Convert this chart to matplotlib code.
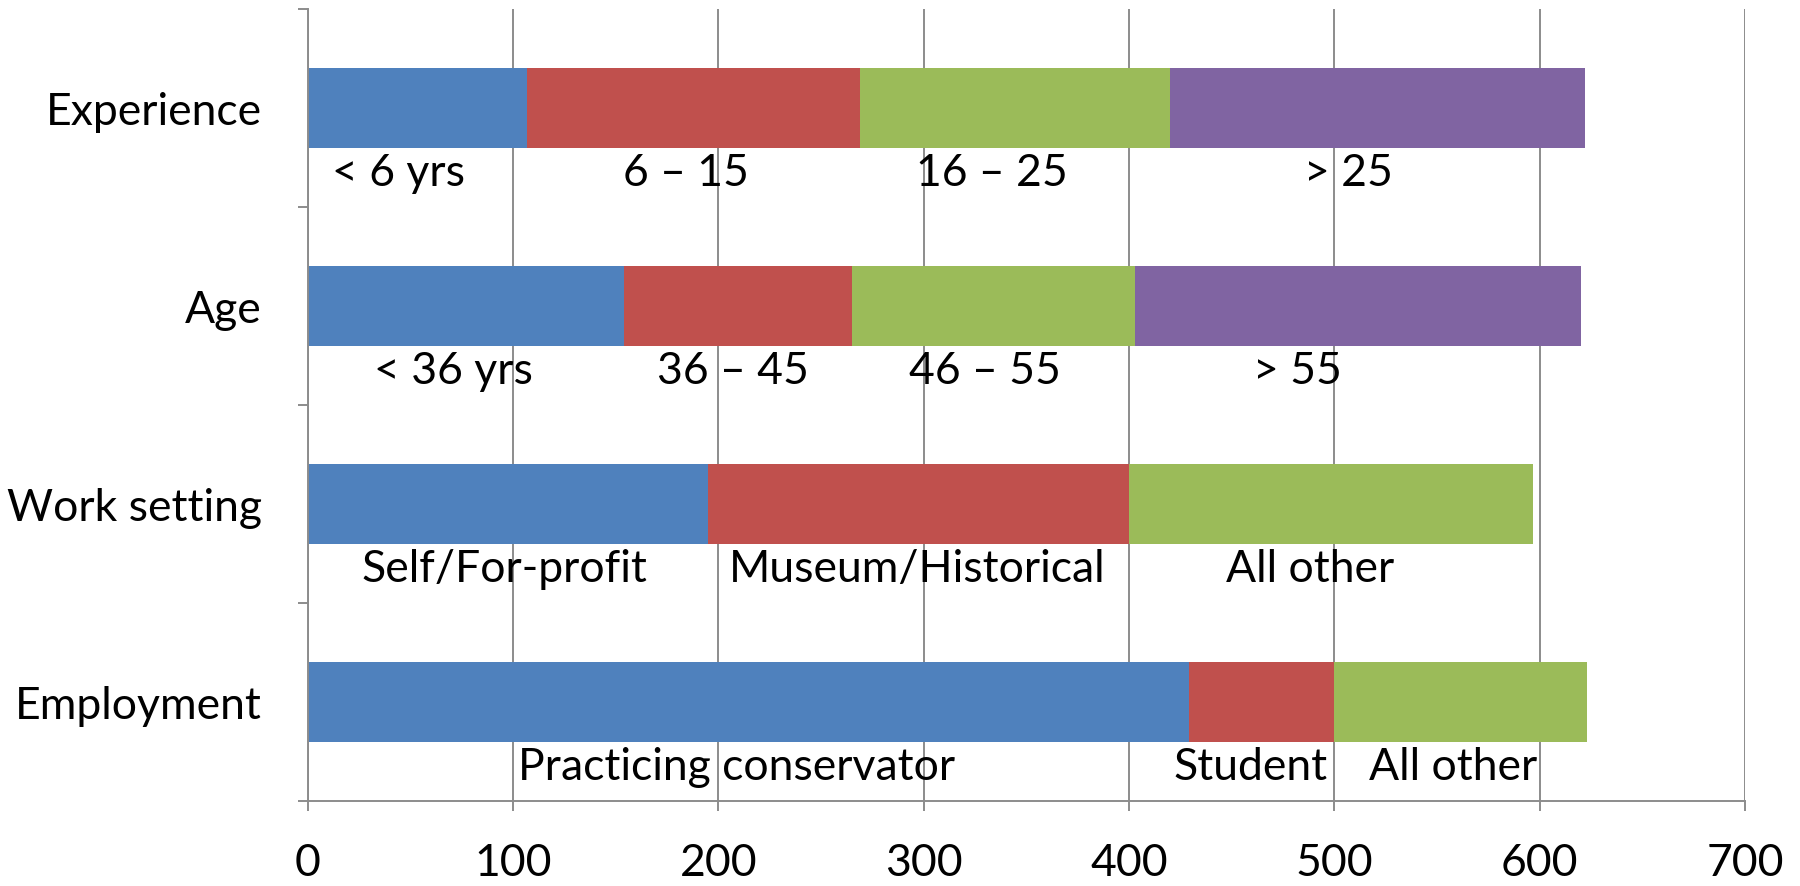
import matplotlib.pyplot as plt
from matplotlib.ticker import FixedLocator

plt.rcParams['font.family'] = ['Lato', 'DejaVu Sans']

categories = ['Experience', 'Age', 'Work setting', 'Employment']

experience = [107, 162, 151, 202]
age = [154, 111, 138, 217]
work_setting = [195, 205, 197]
employment = [429, 71, 123]

experience_labels = ['< 6 yrs', '6 – 15', '16 – 25', '> 25']
age_labels = ['< 36 yrs', '36 – 45', '46 – 55', '> 55']
work_labels = ['Self/For-profit', 'Museum/Historical', 'All other']
employment_labels = ['Practicing conservator', 'Student', 'All other']

# where each segment caption sits along the x axis
experience_text_x = [44, 184, 333, 507]
age_text_x = [71, 207, 330, 482]
work_text_x = [96, 297, 488]
employment_text_x = [209, 459, 558]

colors = ['#4F81BD', '#C0504D', '#9BBB59', '#8064A2']
grid_col = '#8c8c8c'
fs = 32

rows = [(experience, experience_labels, experience_text_x),
        (age, age_labels, age_text_x),
        (work_setting, work_labels, work_text_x),
        (employment, employment_labels, employment_text_x)]

fig, ax = plt.subplots(figsize=(18, 8.86), dpi=100)
fig.subplots_adjust(left=0.171, right=0.9694, top=0.9898, bottom=0.0959)

for i, (vals, labs, xs) in enumerate(rows):
    left = 0
    for j, v in enumerate(vals):
        ax.barh(i, v, left=left, height=0.4, color=colors[j], zorder=2)
        left += v
        ax.text(xs[j], i + 0.33, labs[j], ha='center', va='center', fontsize=fs, zorder=3)

ax.set_xlim(0, 700)
ax.set_ylim(3.5, -0.5)
ax.set_xticks(range(0, 701, 100))
ax.xaxis.grid(True, color=grid_col, lw=1.4, zorder=0)
ax.set_axisbelow(True)

# category boundaries get the tick marks, category centres get the names
ax.yaxis.set_major_locator(FixedLocator([-0.5, 0.5, 1.5, 2.5, 3.5]))
ax.yaxis.set_minor_locator(FixedLocator(range(len(categories))))
ax.set_yticklabels([], minor=False)
ax.set_yticklabels(categories, minor=True)
ax.tick_params(axis='y', which='major', length=7, width=1.4, color=grid_col)
ax.tick_params(axis='y', which='minor', length=0, pad=33, labelsize=fs)
ax.tick_params(axis='x', length=7, width=1.4, color=grid_col, pad=23, labelsize=fs)

for s in ['top', 'right']:
    ax.spines[s].set_visible(False)
for s in ['left', 'bottom']:
    ax.spines[s].set_color(grid_col)
    ax.spines[s].set_linewidth(1.4)

plt.savefig('out.png', dpi=100)
